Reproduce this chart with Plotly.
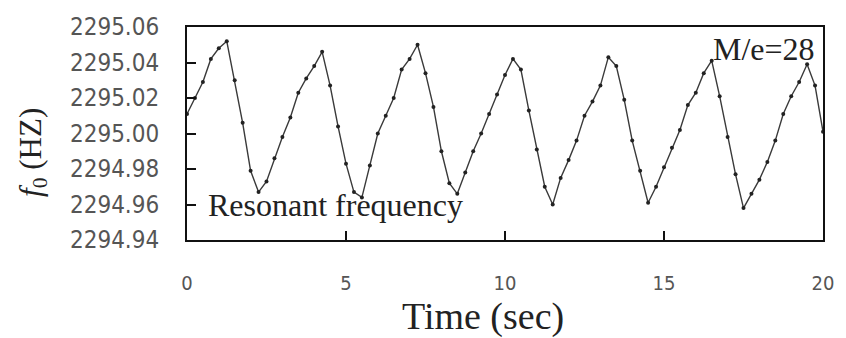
import plotly.graph_objects as go

# Time samples (sec)
time_s = [i * 0.25 for i in range(81)]

# Resonant frequency f0 (Hz)
f0_hz = [
    2295.011, 2295.020, 2295.029, 2295.042, 2295.048, 2295.052, 2295.030, 2295.006,
    2294.979, 2294.967, 2294.973, 2294.986, 2294.998, 2295.009, 2295.023, 2295.031,
    2295.038, 2295.046, 2295.027, 2295.004, 2294.983, 2294.967, 2294.964, 2294.982,
    2295.000, 2295.010, 2295.020, 2295.036, 2295.042, 2295.050, 2295.034, 2295.015,
    2294.990, 2294.972, 2294.966, 2294.978, 2294.990, 2295.000, 2295.011, 2295.022,
    2295.033, 2295.042, 2295.036, 2295.013, 2294.991, 2294.970, 2294.960, 2294.975,
    2294.985, 2294.996, 2295.010, 2295.018, 2295.027, 2295.043, 2295.038, 2295.019,
    2294.996, 2294.979, 2294.961, 2294.970, 2294.981, 2294.992, 2295.002, 2295.016,
    2295.023, 2295.034, 2295.041, 2295.021, 2294.998, 2294.977, 2294.958, 2294.966,
    2294.974, 2294.984, 2294.996, 2295.011, 2295.021, 2295.029, 2295.039, 2295.027,
    2295.001,
]

x_ticks = [0, 5, 10, 15, 20]
y_ticks = [2294.94, 2294.96, 2294.98, 2295.00, 2295.02, 2295.04, 2295.06]
y_tick_text = ["2294.94", "2294.96", "2294.98", "2295.00", "2295.02", "2295.04", "2295.06"]

x_title = "Time (sec)"
y_title = "<i>f</i><sub>0</sub> (HZ)"
label_series = "Resonant frequency"
label_mass = "M/e=28"

SERIF = "Liberation Serif, Times New Roman, serif"
NARROW = "DejaVu Sans Condensed, Liberation Sans Narrow, DejaVu Sans, sans-serif"

fig = go.Figure()
fig.add_trace(go.Scatter(
    x=time_s, y=f0_hz, mode="lines+markers",
    line=dict(color="#3a3a3a", width=1.4),
    marker=dict(color="#222222", size=4),
    showlegend=False,
))

fig.update_layout(
    width=846, height=338,
    margin=dict(l=187, r=15, t=27, b=98),
    paper_bgcolor="white", plot_bgcolor="white",
    xaxis=dict(
        range=[0, 20], tickvals=x_ticks, ticks="inside", ticklen=9, tickwidth=1.5,
        tickcolor="#111", showline=True, linecolor="#111", linewidth=2, mirror=True,
        showgrid=False, zeroline=False, ticklabelstandoff=24,
        tickfont=dict(family=NARROW, size=20, color="#555"),
    ),
    yaxis=dict(
        range=[2294.94, 2295.06], tickvals=y_ticks, ticktext=y_tick_text,
        ticks="inside", ticklen=9, tickwidth=1.5, tickcolor="#111",
        showline=True, linecolor="#111", linewidth=2, mirror=True,
        showgrid=False, zeroline=False, ticklabelstandoff=21,
        tickfont=dict(family=NARROW, size=24, color="#555"),
    ),
    annotations=[
        dict(text=x_title, xref="paper", yref="paper", x=(487 - 187) / 644, y=-(316 - 240) / 213,
             xanchor="center", yanchor="middle", showarrow=False,
             font=dict(family=SERIF, size=38, color="#222")),
        dict(text=y_title, xref="paper", yref="paper", x=-(187 - 31) / 644, y=(240 - 152) / 213,
             xanchor="center", yanchor="middle", textangle=-90, showarrow=False,
             font=dict(family=SERIF, size=31, color="#222")),
        dict(text=label_series, xref="paper", yref="paper", x=(206 - 187) / 644, y=(240 - 205) / 213,
             xanchor="left", yanchor="middle", showarrow=False,
             font=dict(family=SERIF, size=32, color="#222")),
        dict(text=label_mass, xref="paper", yref="paper", x=(825 - 187) / 644, y=(240 - 49) / 213,
             xanchor="right", yanchor="middle", showarrow=False,
             font=dict(family=SERIF, size=32, color="#222")),
    ],
)

fig.write_html("out.html")
